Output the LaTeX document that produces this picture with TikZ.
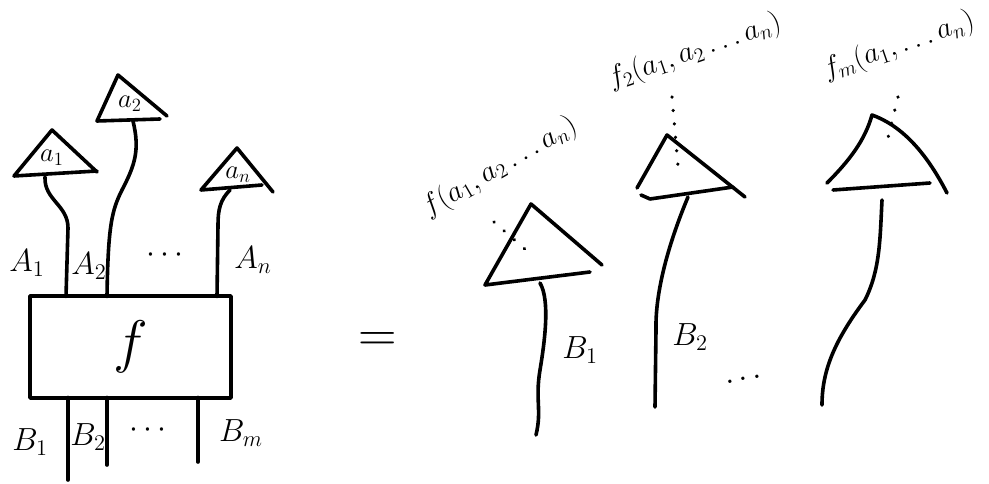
\RequirePackage{fix-cm}
\documentclass[tikz,border=0pt]{standalone}
\begin{document}
\begin{tikzpicture}[x=0.75pt,y=-0.75pt,
  ink/.style={line width=2.7pt, line cap=round, line join=round},
  dotlink/.style={line width=2.6pt, line cap=round, dash pattern=on 0.1pt off 10pt},
  biglab/.style={font=\fontsize{24}{28}\selectfont, inner sep=0pt},
  tlab/.style={font=\fontsize{20}{24}\selectfont, inner sep=0pt},
  flab/.style={font=\fontsize{22}{26}\selectfont, inner sep=0pt, anchor=base west},
  boxst/.style={draw, ink, minimum width=150.75pt, minimum height=76.5pt, inner sep=0pt,
    font=\fontsize{44}{48}\selectfont}]
\useasboundingbox (0,0) rectangle (989,484);

% ---------- left: box f with inputs ----------
\node[boxst] (fbox) at (130.5,347) {$f$};

% input triangles
\draw[ink] (97,172) -- (52,130) -- (14,176) -- (97,171);
\node[tlab] (la1) at (52,158) {$a_1$};
\draw[ink] (167,116) -- (118,75) -- (97,121) -- (160,119);
\node[tlab] (la2) at (130,104) {$a_2$};
\draw[ink] (273,192) -- (237,148) -- (201,190) -- (262,185);
\node[tlab] (lan) at (238,175) {$a_n$};

% wire ends
\coordinate (w1) at (45,177);
\coordinate (w2) at (133,121);
\coordinate (wn) at (230,190);
\coordinate (p1) at (66,296.5);
\coordinate (p2) at (107,296.5);
\coordinate (pn) at (217,296.5);
\draw[ink] (w1) .. controls (44,200) and (68,205) .. (68,228) -- (p1);
\draw[ink] (w2) .. controls (140,150) and (135,165) .. (122,190)
               .. controls (112,210) and (108,225) .. (p2);
\draw[ink] (wn) .. controls (220,200) and (218,210) .. (218,225) -- (pn);

\node[biglab] (A1) at (27,263) {$A_1$};
\node[biglab] (A2) at (89,266) {$A_2$};
\node[biglab] (Ad) at (165,255) {$\cdots$};
\node[biglab] (An) at (253,260) {$A_n$};

% outputs
\coordinate (q1) at (68,397.5);
\coordinate (q2) at (107,397.5);
\coordinate (qm) at (198,397.5);
\coordinate (e1) at (68,480);
\coordinate (e2) at (107,465);
\coordinate (em) at (198,462);
\draw[ink] (q1) -- (e1);
\draw[ink] (q2) -- (e2);
\draw[ink] (qm) -- (em);
\node[biglab] (B1) at (30,442) {$B_1$};
\node[biglab] (B2) at (88,437) {$B_2$};
\node[biglab] (Bd) at (148,430) {$\cdots$};
\node[biglab] (Bm) at (241,433) {$B_m$};

% equals
\node[font=\fontsize{40}{44}\selectfont, inner sep=0pt] (eq) at (378,342) {$=$};

% ---------- right: output states ----------
% triangle 1
\draw[ink] (602,265) -- (531,204) -- (485,285) -- (590,272);
\coordinate (r1) at (540,283);
\coordinate (s1) at (536,435);
\draw[ink] (r1) .. controls (550,300) and (545,340) .. (540,370)
               .. controls (535,400) and (542,410) .. (s1);
\node[biglab] (RB1) at (580,350) {$B_1$};
\node[flab, rotate=30] (f1lab) at (428,217) {$f(a_1,a_2\ldots a_n)$};
\coordinate (d1a) at (494,222);
\coordinate (d1b) at (526,250);
\draw[dotlink] (d1a) -- (d1b);

% triangle 2
\draw[ink] (745,197) -- (667,135) -- (637,188);
\draw[ink] (641,195) -- (650,199) -- (733,187);
\coordinate (r2) at (688,197);
\coordinate (s2) at (655,407);
\draw[ink] (r2) .. controls (670,240) and (655,290) .. (656,330) -- (s2);
\node[biglab] (RB2) at (690,337) {$B_2$};
\node[flab, rotate=19] (f2lab) at (611,88) {$f_2(a_1,a_2\ldots a_n)$};
\coordinate (d2a) at (672,97);
\coordinate (d2b) at (678,166);
\draw[dotlink] (d2a) -- (d2b);

\node[biglab, rotate=11] (Rd) at (744,380) {$\cdots$};

% triangle m
\draw[ink] (947,193) .. controls (925,150) and (900,125) .. (872,115)
           .. controls (865,140) and (850,160) .. (827,183);
\draw[ink] (833,190) -- (930,183);
\coordinate (rm) at (882,200);
\coordinate (sm) at (822,405);
\draw[ink] (rm) .. controls (880,240) and (880,270) .. (865,300)
               .. controls (835,340) and (822,370) .. (sm);
\node[flab, rotate=19] (fmlab) at (826,79) {$f_m(a_1,\ldots a_n)$};
\coordinate (dma) at (898,97);
\coordinate (dmb) at (886,146);
\draw[dotlink] (dma) -- (dmb);
\end{tikzpicture}
\end{document}
